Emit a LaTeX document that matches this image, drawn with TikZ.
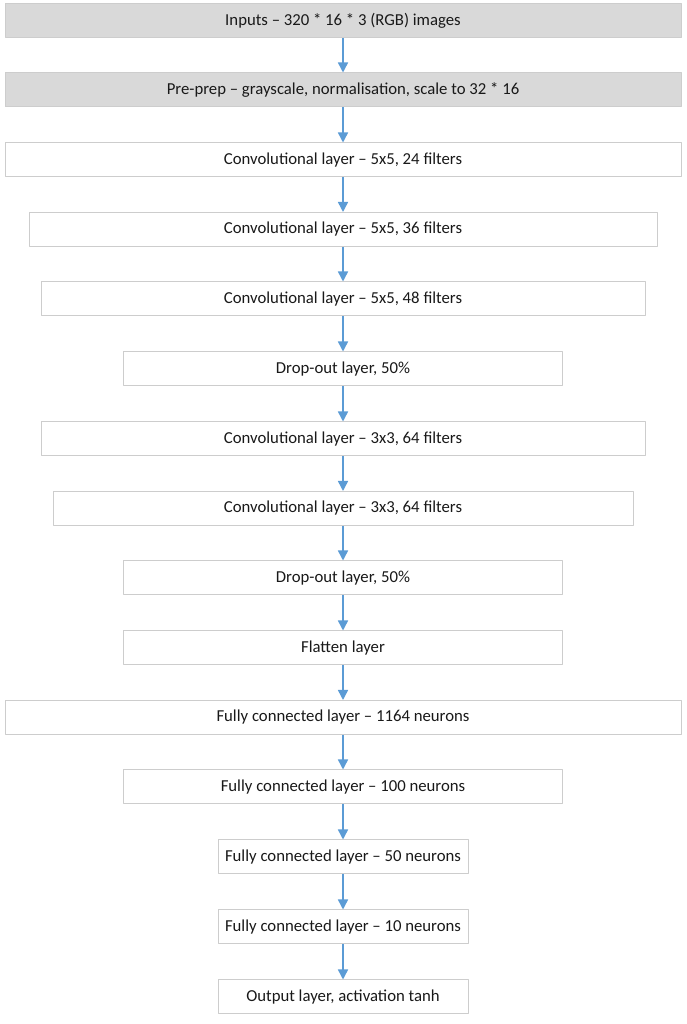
\documentclass[tikz,border=0pt]{standalone}
\usepackage{fontspec}
\setmainfont{Carlito}
\usetikzlibrary{arrows.meta}
\definecolor{boxline}{HTML}{CDCDCD}
\definecolor{boxgray}{HTML}{D9D9D9}
\definecolor{arrowblue}{HTML}{5B9BD5}
\begin{document}
\begin{tikzpicture}[>={Triangle[width=10bp,length=10bp]},line join=bevel,
  layer/.style={draw=boxline,line width=1bp,fill=white,minimum height=34bp,inner sep=0pt,
    font=\fontsize{16.8}{19}\selectfont,text=black!90},
  flow/.style={arrowblue,line width=1.5bp,->}]
\useasboundingbox (0bp,0bp) rectangle (687bp,1024bp);
%%
\node (node_0) at (343bp,1003.5bp) [layer,fill=boxgray,minimum width=676bp] {Inputs – 320 * 16 * 3 (RGB) images};
  \node (node_1) at (343bp,934bp) [layer,fill=boxgray,minimum width=676bp] {Pre-prep – grayscale, normalisation, scale to 32 * 16};
  \node (node_2) at (343bp,864bp) [layer,minimum width=676bp] {Convolutional layer – 5x5, 24 filters};
  \node (node_3) at (343bp,794.5bp) [layer,minimum width=628bp] {Convolutional layer – 5x5, 36 filters};
  \node (node_4) at (343bp,725bp) [layer,minimum width=604bp] {Convolutional layer – 5x5, 48 filters};
  \node (node_5) at (343bp,655bp) [layer,minimum width=439bp] {Drop-out layer, 50\%};
  \node (node_6) at (343bp,585bp) [layer,minimum width=604bp] {Convolutional layer – 3x3, 64 filters};
  \node (node_7) at (343bp,515.5bp) [layer,minimum width=580bp] {Convolutional layer – 3x3, 64 filters};
  \node (node_8) at (343bp,446bp) [layer,minimum width=439bp] {Drop-out layer, 50\%};
  \node (node_9) at (343bp,376bp) [layer,minimum width=439bp] {Flatten layer};
  \node (node_10) at (343bp,306.5bp) [layer,minimum width=676bp] {Fully connected layer – 1164 neurons};
  \node (node_11) at (343bp,237bp) [layer,minimum width=439bp] {Fully connected layer – 100 neurons};
  \node (node_12) at (343bp,167bp) [layer,minimum width=250bp] {Fully connected layer – 50 neurons};
  \node (node_13) at (343bp,97bp) [layer,minimum width=250bp] {Fully connected layer – 10 neurons};
  \node (node_14) at (343bp,27bp) [layer,minimum width=250bp] {Output layer, activation tanh};
%
\foreach \a [evaluate=\a as \b using int(\a+1)] in {0,...,13}
  \draw [flow] (node_\a) -- (node_\b);
%
\end{tikzpicture}
\end{document}
